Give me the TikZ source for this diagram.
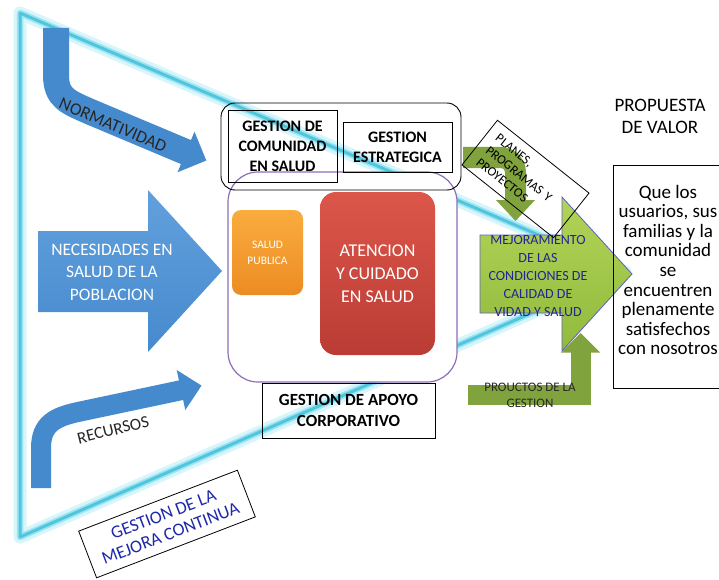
\documentclass[tikz,border=0pt]{standalone}
\usepackage{fontspec}
\setmainfont{Carlito}
\usetikzlibrary{shapes.geometric}
\definecolor{glowA}{RGB}{215,246,252}
\definecolor{glowB}{RGB}{160,228,242}
\definecolor{glowC}{RGB}{80,198,222}
\definecolor{arrowblue}{RGB}{70,138,206}
\definecolor{arrowblueL}{RGB}{98,160,220}
\definecolor{olive}{RGB}{128,163,62}
\definecolor{limeT}{RGB}{178,212,88}
\definecolor{limeB}{RGB}{145,186,60}
\definecolor{limeEdge}{RGB}{95,95,195}
\definecolor{purpleEdge}{RGB}{140,110,185}
\definecolor{orangeT}{RGB}{250,172,62}
\definecolor{orangeB}{RGB}{236,140,35}
\definecolor{redT}{RGB}{220,86,74}
\definecolor{redB}{RGB}{186,60,52}
\definecolor{navyText}{RGB}{35,35,150}
\definecolor{mejText}{RGB}{30,40,170}
\definecolor{darkText}{RGB}{40,40,40}
\begin{document}
\begin{tikzpicture}[x=1pt,y=-1pt,
  bx/.style={draw=black, line width=0.9, align=center, inner sep=0pt},
  boldtxt/.style={font=\bfseries\fontsize{16}{20}\selectfont},
  glowline/.style={line join=round},
  bluebody/.style={draw=arrowblue},
  olivebody/.style={draw=olive},
]
\useasboundingbox (0,0) rectangle (719,580);
\fill[white] (0,0) rectangle (719,580);

% big cyan triangle (mejora continua)
\coordinate (tl) at (20,13);
\coordinate (ap) at (625,272);
\coordinate (bl) at (20,537);
\draw[glowline, glowA, line width=13] (tl) -- (ap) -- (bl) -- cycle;
\draw[glowline, glowB, line width=6.5] (tl) -- (ap) -- (bl) -- cycle;
\draw[glowline, glowC, line width=3] (tl) -- (ap) -- (bl) -- cycle;

% NORMATIVIDAD arrow
\draw[bluebody, line width=26] (56,28) -- (56,75) .. controls (56,98) and (68,102) .. (90,111.7) -- (187,152.5);
\fill[arrowblue] (177.5,172.3) -- (194.5,131.7) -- (206.3,160.5) -- cycle;
\node[rotate=-23, font=\fontsize{17.5}{20}\selectfont, text=black!85] (norm) at (113,125) {NORMATIVIDAD};

% NECESIDADES arrow
\path[top color=arrowblueL, bottom color=arrowblue] (38,231) -- (148,231) -- (148,190) -- (222,271) -- (148,352) -- (148,312) -- (38,312) -- cycle;
\node[text=white, font=\fontsize{17.5}{22.5}\selectfont, align=center] (nec) at (112,272) {NECESIDADES EN\\SALUD DE LA\\POBLACION};

% RECURSOS arrow
\draw[bluebody, line width=20] (41,488) -- (41,448) .. controls (41,424) and (55,417) .. (78,412) -- (182,390);
\fill[arrowblue] (176.7,370) -- (185.3,410) -- (201.5,385.6) -- cycle;
\node[rotate=14, font=\fontsize{17}{20}\selectfont, text=black!85] (rec) at (113,430) {RECURSOS};

% purple area
\node[draw=purpleEdge, line width=1.2, fill=white, rounded corners=30, minimum width=229, minimum height=210] (area) at (342.5,277) {};
\node[rounded corners=9, top color=orangeT, bottom color=orangeB, minimum width=71, minimum height=85, text=white, font=\fontsize{11.5}{16}\selectfont, align=center] (sp) at (267.5,252.5) {SALUD\\PUBLICA};
\node[rounded corners=16, top color=redT, bottom color=redB, minimum width=115, minimum height=163, text=white, font=\fontsize{18}{23}\selectfont, align=center] (aten) at (377.5,273.5) {ATENCION\\Y CUIDADO\\EN SALUD};

% top boxes
\node[draw=black, line width=0.9, rounded corners=14, minimum width=240, minimum height=87] (topbox) at (341,146.5) {};
\node[bx, boldtxt, minimum width=109, minimum height=72] (gcs) at (282.5,146) {GESTION DE\\COMUNIDAD\\EN SALUD};
\node[bx, boldtxt, minimum width=109, minimum height=50] (gest) at (397.5,147) {GESTION\\ESTRATEGICA};

% apoyo box
\node[bx, font=\bfseries\fontsize{17}{21}\selectfont, minimum width=173, minimum height=55] (apoyo) at (348.5,410.5) {GESTION DE APOYO\\CORPORATIVO};

% big green arrow
\path[draw=limeEdge, line width=0.8, top color=limeT, bottom color=limeB] (480,235) -- (562,235) -- (562,197) -- (632,274) -- (562,351) -- (562,313) -- (480,313) -- cycle;
\node[text=navyText, font=\fontsize{14}{18}\selectfont, align=center] (mej) at (538,276) {MEJORAMIENTO\\DE LAS\\CONDICIONES DE\\CALIDAD DE\\VIDAD Y SALUD};

% planes arrow
\draw[olivebody, line width=21] (463,157.5) -- (500,157.5) .. controls (509,157.5) and (515.5,164) .. (515.5,173) -- (515.5,200.5);
\fill[olive] (496,200) -- (535,200) -- (515.5,221) -- cycle;

% productos arrow
\draw[olivebody, line width=20, line join=miter] (468,394.5) -- (581,394.5) -- (581,352);
\fill[olive] (561,352.5) -- (600,352.5) -- (580.5,333) -- cycle;
\node[text=darkText, font=\fontsize{13}{16}\selectfont, align=center] (prod) at (530,395) {PROUCTOS DE LA\\GESTION};

% value box
\node[draw=black, line width=0.8, minimum width=110, minimum height=223] (vbox) at (668,276.5) {};
\node[font=\fontsize{19}{19.6}\selectfont, align=center] (vtext) at (668,270) {Que los\\usuarios, sus\\familias y la\\comunidad\\se\\encuentren\\plenamente\\satisfechos\\con nosotros};
\node[font=\fontsize{19}{22}\selectfont, align=center] (prop) at (660,116) {PROPUESTA\\DE VALOR};

% planes box
\node[draw=black, line width=0.8, rotate=-38.5, minimum width=117, minimum height=57, text width=97, inner xsep=10, align=left, font=\fontsize{13}{15.5}\selectfont] (planes) at (525.5,179) {PLANES,\\PROGRAMAS Y\\PROYECTOS};

% mejora continua box
\node[draw=black, line width=0.8, rotate=21, minimum width=170, minimum height=50, text=mejText, align=center, font=\fontsize{18}{20}\selectfont] (mejora) at (167,524) {GESTION DE LA\\MEJORA CONTINUA};
\end{tikzpicture}
\end{document}
